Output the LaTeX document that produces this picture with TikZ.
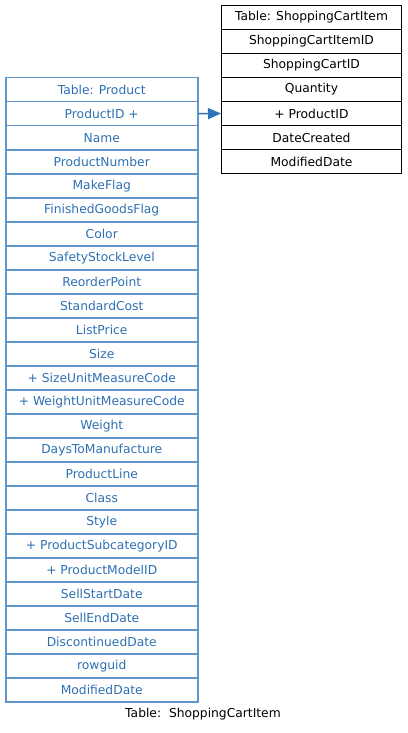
\documentclass[tikz,border=0pt]{standalone}
\usepackage{fontspec}
\setmainfont{DejaVu Sans}
\usetikzlibrary{arrows.meta}
\definecolor{pline}{RGB}{96,150,205}
\definecolor{ptext}{RGB}{46,112,180}
\definecolor{parrow}{RGB}{48,115,184}
\begin{document}
\begin{tikzpicture}[x=1pt,y=1pt,
  prow/.style={draw=pline,line width=1.5pt,fill=white,minimum width=192pt,minimum height=24pt,inner sep=0pt,anchor=north west,text=ptext,font=\fontsize{12.3}{14}\selectfont},
  srow/.style={draw=black,line width=1pt,fill=white,minimum width=180pt,minimum height=24pt,inner sep=0pt,anchor=north west,text=black,font=\fontsize{12.3}{14}\selectfont},
  fk/.style={draw=parrow,line width=1.5pt,-{Triangle[length=13pt,width=11pt]}}]
\useasboundingbox (0,0) rectangle (407,-733);
\foreach \t [count=\i from 0] in {Table: Product,ProductID +,Name,ProductNumber,MakeFlag,FinishedGoodsFlag,Color,SafetyStockLevel,ReorderPoint,StandardCost,ListPrice,Size,+ SizeUnitMeasureCode,+ WeightUnitMeasureCode,Weight,DaysToManufacture,ProductLine,Class,Style,+ ProductSubcategoryID,+ ProductModelID,SellStartDate,SellEndDate,DiscontinuedDate,rowguid,ModifiedDate}
  \node[prow] (p\i) at (5,{-77-24*\i}) {\t};
\foreach \t [count=\i from 0] in {Table: ShoppingCartItem,ShoppingCartItemID,ShoppingCartID,Quantity,+ ProductID,DateCreated,ModifiedDate}
  \node[srow] (s\i) at (221,{-5-24*\i}) {\t};
\draw[fk] (p1.east) -- (s4.west);
\node[font=\fontsize{12.3}{14}\selectfont] (cap) at (203,-714) {Table:\ \ ShoppingCartItem};
\end{tikzpicture}
\end{document}
